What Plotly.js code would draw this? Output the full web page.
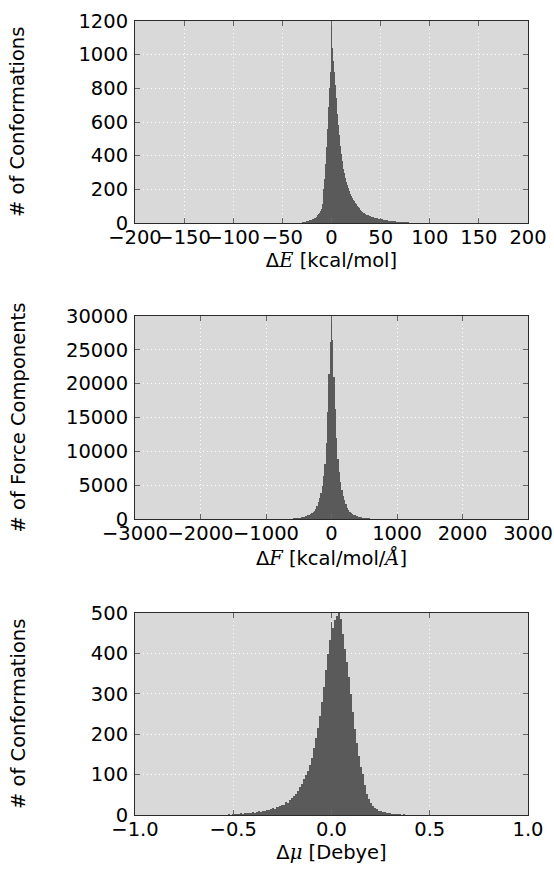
<!DOCTYPE html>
<html>
<head>
<meta charset="utf-8">
<script src="https://cdn.plot.ly/plotly-3.0.1.min.js"></script>
<style>html,body{margin:0;padding:0;background:#fff;}#chart{width:554px;height:871px;}</style>
</head>
<body>
<div id="chart"></div>
<script>
// Panel 1: energy error histogram (bin start, bin width, counts)
const eStart = -35, eWidth = 1;
const eCounts = [
  1,1,2,2,3,5,5,6,7,8,
  10,11,13,15,17,20,22,25,28,32,
  38,46,54,62,70,82,115,200,260,350,
  450,560,690,800,900,1175,1040,960,900,820,
  740,650,580,520,460,410,370,320,295,270,
  245,225,205,188,172,160,148,137,128,120,
  110,102,95,88,80,75,70,64,60,57,
  54,50,48,45,42,40,38,36,33,32,
  31,29,27,26,25,24,22,21,19,18,
  17,16,15,14,13,12,12,11,10,9,
  9,8,8,7,7,6,6,6,6,5,
  5,5,5,4,3,2
];
// Panel 2: force component error histogram
const fStart = -700, fWidth = 20;
const fCounts = [
  15,20,30,40,55,70,90,110,130,155,
  180,215,255,300,360,420,490,560,640,740,
  860,1000,1200,1450,1900,2450,3150,3900,4900,6300,
  8200,11200,15800,21500,26200,29900,26500,21000,16200,12000,
  8900,6900,5400,4300,3450,2750,2150,1700,1350,1100,
  900,760,640,540,460,390,330,280,235,200,
  170,140,115,95,78,62,50,38,28,20,12
];
// Panel 3: dipole error histogram
const mStart = -0.60, mWidth = 0.01;
const mCounts = [
  0,1,0,1,1,0,1,1,2,1,
  2,3,2,3,4,3,5,4,6,5,
  7,6,8,9,8,11,10,13,12,15,
  17,16,20,19,23,26,25,32,30,38,
  42,48,52,60,70,76,88,98,110,124,
  142,166,190,216,246,280,318,358,398,432,
  478,462,482,492,500,484,448,412,378,342,
  300,256,214,178,146,118,102,74,52,40,
  30,22,17,14,11,10,8,7,6,5,
  4,3,3,2,2,2,1,2,1,1,
  0,1,0,1,0,1
];

const xTicks1 = [-200,-150,-100,-50,0,50,100,150,200];
const yTicks1 = [0,200,400,600,800,1000,1200];
const xTicks2 = [-3000,-2000,-1000,0,1000,2000,3000];
const yTicks2 = [0,5000,10000,15000,20000,25000,30000];
const xTicks3 = [-1.0,-0.5,0.0,0.5,1.0];
const yTicks3 = [0,100,200,300,400,500];

const xTitle1 = 'Δ<span style="font-family:DejaVu Serif;font-style:italic">E</span> [kcal/mol]';
const xTitle2 = 'Δ<span style="font-family:DejaVu Serif;font-style:italic">F</span> [kcal/mol/<span style="font-family:DejaVu Serif;font-style:italic">Å</span>]';
const xTitle3 = 'Δ<span style="font-family:DejaVu Serif;font-style:italic">μ</span> [Debye]';
const yTitle1 = '# of Conformations';
const yTitle2 = '# of Force Components';
const yTitle3 = '# of Conformations';

function centers(start, width, counts){ return counts.map((_, i) => start + i * width); }

const barColor = '#5a5a5a';
function barTrace(start, width, counts, xa, ya){
  return {type:'bar', x:centers(start,width,counts), y:counts, width:width,
    marker:{color:barColor, line:{width:0}}, xaxis:xa, yaxis:ya, hoverinfo:'x+y'};
}

const data = [
  barTrace(eStart, eWidth, eCounts, 'x', 'y'),
  barTrace(fStart, fWidth, fCounts, 'x2', 'y2'),
  barTrace(mStart, mWidth, mCounts, 'x3', 'y3')
];

const font = {family:'DejaVu Sans', size:19.5, color:'#000'};
const xdom = [135/554, 528/554];
const dom1 = [1-223/871, 1-21/871], dom2 = [1-519/871, 1-316/871], dom3 = [1-815/871, 1-613/871];
const gridDash = '1px,3px';
function xax(range, ticks, title, anchor, fmt){
  return {domain:xdom, range:range, tickvals:ticks, tickformat:fmt||'d', tickangle:0,
    showline:true, mirror:'ticks', linecolor:'#2a2a2a', linewidth:1,
    ticks:'inside', ticklen:5, tickcolor:'#666', tickfont:font, ticklabelstandoff:-3,
    showgrid:true, gridcolor:'#ffffff', griddash:gridDash, gridwidth:1, zeroline:false,
    title:{text:title, font:font, standoff:3}, anchor:anchor, fixedrange:true};
}
function yax(range, ticks, dom, anchor){
  return {domain:dom, range:range, tickvals:ticks, tickformat:'d',
    showline:true, mirror:'ticks', linecolor:'#2a2a2a', linewidth:1,
    ticks:'inside', ticklen:5, tickcolor:'#666', tickfont:font, ticklabelstandoff:2,
    showgrid:true, gridcolor:'#ffffff', griddash:gridDash, gridwidth:1, zeroline:false,
    anchor:anchor, fixedrange:true};
}
function yTitle(text, dom){
  return {text:text, xref:'paper', yref:'paper', x:18/554, y:(dom[0]+dom[1])/2,
    xanchor:'center', yanchor:'middle', textangle:-90, showarrow:false, font:font};
}

const layout = {
  width:554, height:871, margin:{l:0, r:0, t:0, b:0},
  paper_bgcolor:'#ffffff', plot_bgcolor:'#d9d9d9', showlegend:false, bargap:0,
  font:font,
  xaxis: xax([-200,200], xTicks1, xTitle1, 'y'),
  yaxis: yax([0,1200], yTicks1, dom1, 'x'),
  xaxis2: xax([-3000,3000], xTicks2, xTitle2, 'y2'),
  yaxis2: yax([0,30000], yTicks2, dom2, 'x2'),
  xaxis3: xax([-1,1], xTicks3, xTitle3, 'y3', '.1f'),
  yaxis3: yax([0,500], yTicks3, dom3, 'x3'),
  annotations: [yTitle(yTitle1, dom1), yTitle(yTitle2, dom2), yTitle(yTitle3, dom3)]
};

Plotly.newPlot('chart', data, layout, {staticPlot:true, displayModeBar:false});
</script>
</body>
</html>
